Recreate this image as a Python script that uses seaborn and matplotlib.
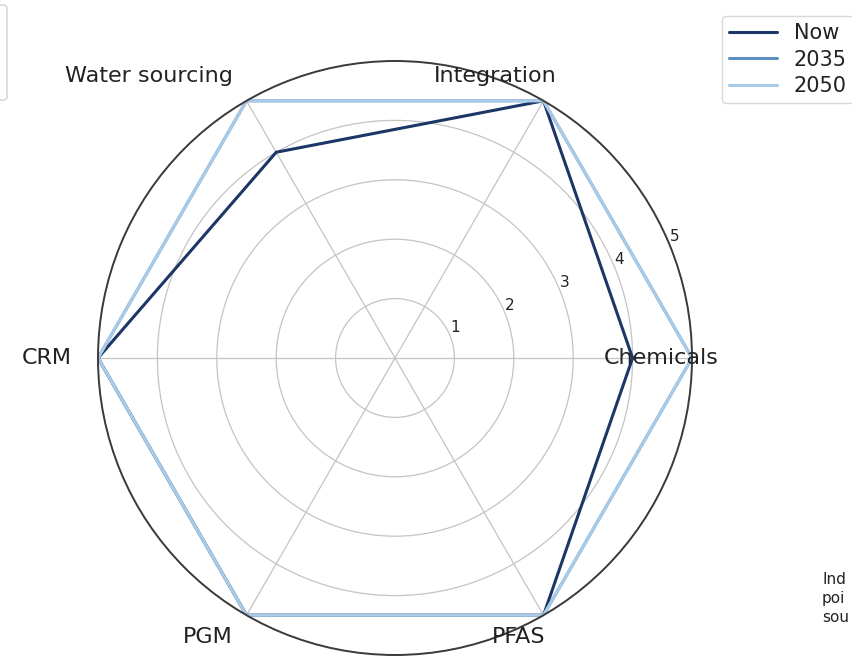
import numpy as np
import pandas as pd
import matplotlib
matplotlib.use("Agg")
import matplotlib.pyplot as plt
import seaborn as sns
from matplotlib.patches import FancyBboxPatch
from matplotlib.lines import Line2D

# ---- data ----
categories = ["Chemicals", "Integration", "Water sourcing", "CRM", "PGM", "PFAS"]
now_values = [4, 5, 4, 5, 5, 5]
values_2035 = [5, 5, 5, 5, 5, 5]
values_2050 = [5, 5, 5, 5, 5, 5]
series_names = ["Now", "2035", "2050"]
radial_ticks = [1, 2, 3, 4, 5]
note_lines = ["Ind", "poi", "sou"]
palette = {"Now": "#1c3766", "2035": "#5f8fc0", "2050": "#aacbe6"}

sns.set_theme(style="white")
plt.rcParams['font.family'] = ['DejaVu Sans']

W, H = 852, 664
fig = plt.figure(figsize=(W / 100, H / 100), dpi=100)

n = len(categories)
angles = np.linspace(0, 2 * np.pi, n, endpoint=False)

rows = []
for name, vals in zip(series_names, [now_values, values_2035, values_2050]):
    for k in range(n + 1):
        i = k % n
        theta = angles[i] if k < n else 2 * np.pi
        rows.append(dict(series=name, step=k, theta=theta, value=vals[i]))
df = pd.DataFrame(rows)

cx, cy, R = 395, 358, 297
ax = fig.add_axes([(cx - R) / W, (H - cy - R) / H, 2 * R / W, 2 * R / H],
                  projection='polar')

sns.lineplot(data=df, x="theta", y="value", hue="series", hue_order=series_names,
             palette=palette, sort=False, estimator=None, linewidth=2.2,
             legend=False, ax=ax)

ax.set_ylim(0, 5)
ax.set_yticks(radial_ticks)
ax.set_yticklabels([str(t) for t in radial_ticks], fontsize=11, color="#222222")
ax.set_rlabel_position(22.5)
ax.set_xticks(angles)
ax.set_xticklabels([])
ax.set_xlabel("")
ax.set_ylabel("")
ax.grid(True, color="#c4c4c4", linewidth=0.9)
ax.spines['polar'].set_color("#3a3a3a")
ax.spines['polar'].set_linewidth(1.4)
ax.set_facecolor("white")

# category labels (positions as in the reference)
label_pos = {
    "Chemicals": (661, 358),
    "Integration": (495, 76),
    "Water sourcing": (149, 76),
    "CRM": (47, 358),
    "PGM": (208, 637),
    "PFAS": (519, 637),
}
for cat in categories:
    x, y = label_pos[cat]
    fig.text(x / W, 1 - y / H, cat, ha="center", va="center", fontsize=16,
             color="#222222")

# legend
handles = [Line2D([0], [0], color=palette[s], lw=2.2) for s in series_names]
leg = fig.legend(handles, series_names, loc="upper left",
                 bbox_to_anchor=(722 / W, 1 - 16 / H), fontsize=15,
                 frameon=True, handlelength=2.3, labelspacing=0.3,
                 borderaxespad=0, borderpad=0.35, fancybox=True)
leg.get_frame().set_edgecolor("#d0d0d0")
for t in leg.get_texts():
    t.set_color("#222222")

# partially visible box at left edge
box = FancyBboxPatch((-60 / W, 1 - 100 / H), 67 / W, 95 / H,
                     boxstyle="round,pad=0,rounding_size=0.005",
                     transform=fig.transFigure, facecolor="white",
                     edgecolor="#d0d0d0", linewidth=1.0)
fig.patches.append(box)

# partially visible note at bottom right
fig.text(822 / W, 1 - 572 / H, "\n".join(note_lines), ha="left",
         va="top", fontsize=11, color="#222222", linespacing=1.35)

fig.savefig("out.png", dpi=100)
